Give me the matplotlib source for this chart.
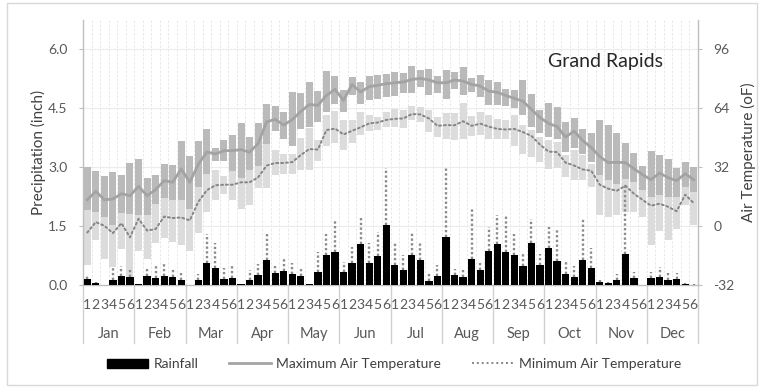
import matplotlib
matplotlib.use("Agg")
import matplotlib.pyplot as plt
import numpy as np
from matplotlib.patches import Rectangle, Patch
from matplotlib.lines import Line2D

plt.rcParams['font.family'] = ['Lato', 'DejaVu Sans']

# ---- data: 72 pentads (6 per month) ----
months = ['Jan', 'Feb', 'Mar', 'Apr', 'May', 'Jun',
          'Jul', 'Aug', 'Sep', 'Oct', 'Nov', 'Dec']
pentads = ['1', '2', '3', '4', '5', '6']

# rainfall (inch) and its upper spread
rainfall = [0.16, 0.05, 0.00, 0.13, 0.22, 0.20,
            0.03, 0.24, 0.18, 0.24, 0.20, 0.14,
            0.00, 0.14, 0.56, 0.44, 0.15, 0.19,
            0.03, 0.14, 0.26, 0.63, 0.31, 0.35,
            0.29, 0.22, 0.02, 0.32, 0.76, 0.84,
            0.32, 0.57, 1.05, 0.56, 0.73, 1.52,
            0.52, 0.37, 0.76, 0.63, 0.10, 0.24,
            1.23, 0.25, 0.20, 0.65, 0.39, 0.86,
            1.04, 0.83, 0.76, 0.48, 1.07, 0.50,
            0.95, 0.60, 0.29, 0.20, 0.63, 0.43,
            0.07, 0.04, 0.12, 0.80, 0.19, 0.00,
            0.19, 0.20, 0.14, 0.16, 0.03, 0.01]
rainfall_err = [0.08, 0.03, 0.00, 0.32, 0.27, 0.20,
                0.00, 0.17, 0.31, 0.30, 0.23, 0.16,
                0.00, 0.15, 0.74, 0.62, 0.29, 0.29,
                0.00, 0.24, 0.28, 0.73, 0.17, 0.34,
                0.28, 0.20, 0.00, 0.51, 0.54, 0.80,
                0.27, 0.41, 0.71, 0.50, 0.61, 1.45,
                0.55, 0.40, 0.59, 0.47, 0.20, 0.27,
                1.74, 0.17, 0.17, 1.28, 0.19, 0.62,
                0.74, 0.93, 0.54, 0.32, 0.61, 0.30,
                0.52, 0.84, 0.30, 0.28, 1.07, 0.50,
                0.05, 0.03, 0.15, 1.75, 0.14, 0.00,
                0.14, 0.27, 0.16, 0.15, 0.02, 0.01]

# maximum air temperature (oF): mean and range
tmax_mean = [14.3, 18.9, 14.3, 14.7, 17.6, 16.5,
             21.6, 16.5, 19.8, 24.7, 23.8, 31.1,
             23.8, 33.6, 40.3, 39.2, 41.0, 41.0,
             41.6, 40.1, 44.9, 56.7, 58.0, 54.9,
             57.9, 62.3, 66.1, 65.6, 71.0, 74.3,
             68.3, 77.0, 72.8, 75.8, 76.5, 77.4,
             77.9, 78.3, 79.7, 80.3, 79.4, 77.9,
             77.9, 79.4, 78.8, 77.0, 76.1, 73.4,
             72.7, 71.0, 69.4, 67.9, 63.4, 59.0,
             55.8, 54.1, 48.4, 51.6, 46.5, 42.7,
             37.8, 34.5, 34.7, 34.5, 31.2, 28.0,
             25.2, 28.9, 26.3, 24.7, 28.5, 25.2]
tmax_high = [32.2, 29.8, 27.1, 29.5, 28.0, 34.4,
             36.7, 26.2, 27.6, 33.6, 33.1, 46.4,
             38.0, 46.4, 52.5, 42.2, 46.7, 49.4,
             56.2, 48.2, 55.8, 66.4, 65.3, 62.2,
             73.1, 72.5, 78.5, 73.6, 84.5, 81.3,
             74.0, 80.9, 78.5, 81.6, 82.2, 82.5,
             84.0, 83.4, 87.1, 84.9, 85.3, 81.6,
             84.9, 83.6, 86.2, 80.4, 82.2, 79.4,
             78.5, 74.4, 74.0, 79.4, 71.8, 63.1,
             67.1, 64.9, 56.7, 58.5, 52.5, 50.4,
             57.6, 54.9, 50.7, 44.9, 39.8, 32.5,
             40.7, 38.9, 36.2, 31.8, 34.9, 32.2]
tmax_low = [8.5, 7.6, 4.9, 0.4, 7.1, 6.7,
            5.8, 5.8, 11.8, 15.4, 14.4, 14.4,
            9.5, 21.3, 28.5, 35.4, 35.4, 30.0,
            26.4, 30.4, 32.5, 44.5, 51.8, 47.1,
            43.5, 52.5, 54.0, 56.7, 62.2, 66.4,
            62.2, 71.3, 66.4, 68.5, 68.9, 70.4,
            70.7, 72.5, 72.2, 75.8, 71.3, 72.5,
            68.9, 74.3, 71.3, 73.1, 70.4, 65.8,
            65.8, 65.3, 64.0, 60.4, 54.0, 50.4,
            48.5, 47.6, 40.4, 42.2, 39.4, 34.9,
            27.6, 24.9, 23.1, 25.8, 24.0, 19.5,
            15.8, 16.7, 15.8, 15.8, 21.3, 18.5]

# minimum air temperature (oF): mean and range
tmin_mean = [-3.5, 2.2, 0.2, -3.8, 1.6, -6.1,
             4.0, -2.4, -1.6, 5.2, 4.4, 4.7,
             3.1, 13.2, 19.5, 22.2, 22.5, 22.5,
             23.8, 23.8, 26.5, 32.9, 34.3, 34.3,
             34.8, 38.6, 41.9, 41.6, 52.2, 53.0,
             49.8, 51.8, 53.7, 55.8, 56.3, 57.7,
             58.3, 58.5, 60.9, 60.7, 58.5, 54.5,
             54.9, 54.8, 57.0, 54.5, 55.7, 54.1,
             52.8, 52.5, 52.8, 51.1, 49.0, 44.3,
             40.5, 40.2, 34.5, 32.9, 30.8, 30.1,
             22.5, 20.3, 19.2, 22.0, 17.6, 14.3,
             11.1, 12.2, 10.5, 8.1, 17.1, 12.5]
tmin_high = [8.5, 7.6, 4.9, 0.4, 7.1, 6.7,
             5.8, 5.8, 11.8, 15.4, 14.4, 14.4,
             9.5, 21.3, 28.5, 30.4, 27.1, 30.0,
             26.4, 30.4, 32.5, 44.5, 41.3, 39.4,
             39.4, 48.0, 53.1, 46.7, 60.3, 62.7,
             57.6, 57.6, 62.2, 60.3, 59.1, 62.2,
             63.4, 63.1, 65.3, 64.9, 63.1, 59.1,
             61.6, 61.6, 67.1, 59.8, 62.2, 60.3,
             58.0, 57.6, 60.3, 54.9, 52.0, 48.2,
             46.7, 45.8, 38.5, 41.3, 38.5, 34.0,
             27.6, 24.9, 23.1, 25.8, 24.0, 19.5,
             15.8, 16.7, 15.8, 15.8, 21.3, 18.5]
tmin_low = [-20.9, -7.5, -17.8, -22.4, -12.4, -27.8,
            -13.6, -17.8, -9.3, -6.4, -8.7, -10.5,
            -13.3, -3.8, 7.6, 14.4, 17.3, 14.4,
            9.5, 11.3, 20.9, 20.9, 27.6, 28.2,
            28.5, 30.7, 30.7, 35.5, 43.5, 44.9,
            41.3, 45.3, 49.4, 51.8, 52.2, 53.6,
            53.6, 53.1, 57.6, 56.7, 51.3, 48.2,
            47.1, 46.7, 47.1, 48.9, 49.4, 47.6,
            47.6, 47.1, 43.5, 39.4, 37.3, 34.9,
            31.3, 31.8, 26.7, 25.3, 24.9, 21.3,
            5.8, 4.9, 5.8, 7.6, 7.6, 4.9,
            -10.0, -2.7, -7.8, -1.5, 11.3, 0.4]

precip_ticks = [0.0, 1.5, 3.0, 4.5, 6.0]
temp_ticks = [-32, 0, 32, 64, 96]

# ---- figure ----
W, H = 764, 388
fig = plt.figure(figsize=(W / 100, H / 100), dpi=100)
fig.patches.append(Rectangle((7 / W, 3 / H), 750 / W, 382 / H,
                             transform=fig.transFigure, fill=False,
                             edgecolor='#d9d9d9', lw=1.0))

ax_t = fig.add_axes([83 / W, 1 - 285 / H, 615 / W, 265 / H])
ax_p = ax_t.twinx()

n = len(rainfall)
x = np.arange(n) + 0.5
AX_C = '#bfbfbf'
TXT = '#595959'
MIN_DOTS = (0, (1, 1.5))

# temperature axis (right)
ax_t.set_xlim(0, n)
ax_t.set_ylim(-32, 112)
ax_t.set_axisbelow(True)
for b in np.arange(1, n):
    ax_t.axvline(b, color='#e4e4e4', lw=0.6, ls=(0, (3, 2)), zorder=0)
for t in temp_ticks[1:]:
    ax_t.axhline(t, color='#ececec', lw=0.8, zorder=0)

hi_max = np.array(tmax_high)
lo_max = np.array(tmax_low)
hi_min = np.array(tmin_high)
lo_min = np.array(tmin_low)
ax_t.bar(x, hi_max - lo_max, bottom=lo_max, width=0.82,
         color='#bababa', zorder=2)
ax_t.bar(x, hi_min - lo_min, bottom=lo_min, width=0.82,
         color='#dcdcdc', zorder=2)
ax_t.plot(x, tmax_mean, color='#a3a3a3', lw=2.0, zorder=3)
ax_t.plot(x, tmin_mean, color='#858585', lw=1.4, ls=MIN_DOTS,
          dash_capstyle='round', zorder=3)

ax_t.yaxis.tick_right()
ax_t.set_yticks(temp_ticks)
ax_t.set_yticklabels([str(t) for t in temp_ticks])
ax_t.tick_params(axis='y', length=3, width=0.8, color=AX_C, labelcolor=TXT,
                 labelsize=10, pad=8)
ax_t.set_xticks([])
for s in ['top', 'left']:
    ax_t.spines[s].set_visible(False)
for s in ['right', 'bottom']:
    ax_t.spines[s].set_color(AX_C)
    ax_t.spines[s].set_linewidth(1.0)

# precipitation axis (left), drawn on top
ax_p.set_ylim(0, 6.75)
ax_p.bar(x, rainfall, width=0.85, color='black', zorder=3)
r = np.array(rainfall)
ax_p.vlines(x, r, r + np.array(rainfall_err), colors='#8c8c8c', lw=1.7,
            linestyles=(0, (1, 1)), zorder=4)
ax_p.yaxis.tick_left()
ax_p.yaxis.set_label_position('left')
ax_p.set_yticks(precip_ticks)
ax_p.set_yticklabels([f'{t:.1f}' for t in precip_ticks])
ax_p.tick_params(axis='y', length=3, width=0.8, color=AX_C, labelcolor=TXT,
                 labelsize=10, pad=8)
for s in ['top', 'right', 'bottom']:
    ax_p.spines[s].set_visible(False)
ax_p.spines['left'].set_color(AX_C)
ax_p.spines['left'].set_linewidth(1.0)

# two-level category axis
tr = ax_t.get_xaxis_transform()
for m, name in enumerate(months):
    for k, p in enumerate(pentads):
        ax_t.text(m * 6 + k + 0.5, -0.0755, p, transform=tr, ha='center',
                  va='center', fontsize=10, color=TXT)
    ax_t.text(m * 6 + 3, -0.185, name, transform=tr, ha='center',
              va='center', fontsize=10.5, color=TXT)
for m in range(len(months) + 1):
    ax_t.plot([m * 6, m * 6], [0, -0.219], transform=tr, color='#d0d0d0',
              lw=1.0, clip_on=False)

# titles
fig.text(38 / W, 1 - 152 / H, 'Precipitation (inch)', rotation=90,
         ha='center', va='center', fontsize=11, color='#404040')
fig.text(748 / W, 1 - 152 / H, 'Air Temperature (oF)', rotation=90,
         ha='center', va='center', fontsize=11, color='#404040')
fig.text(605 / W, 1 - 62 / H, 'Grand Rapids', ha='center', va='center',
         fontsize=14, color='#262626')

handles = [Patch(facecolor='black', edgecolor='black'),
           Line2D([], [], color='#a3a3a3', lw=2.0),
           Line2D([], [], color='#858585', lw=1.4, ls=MIN_DOTS)]
labels = ['Rainfall', 'Maximum Air Temperature', 'Minimum Air Temperature']
fig.legend(handles, labels, loc='center', bbox_to_anchor=(394 / W, 1 - 364 / H),
           ncol=3, frameon=False, fontsize=10, handlelength=3.0,
           handleheight=0.6, handletextpad=0.4, columnspacing=2.2,
           labelcolor='#404040')

fig.savefig('out.png', dpi=100)
